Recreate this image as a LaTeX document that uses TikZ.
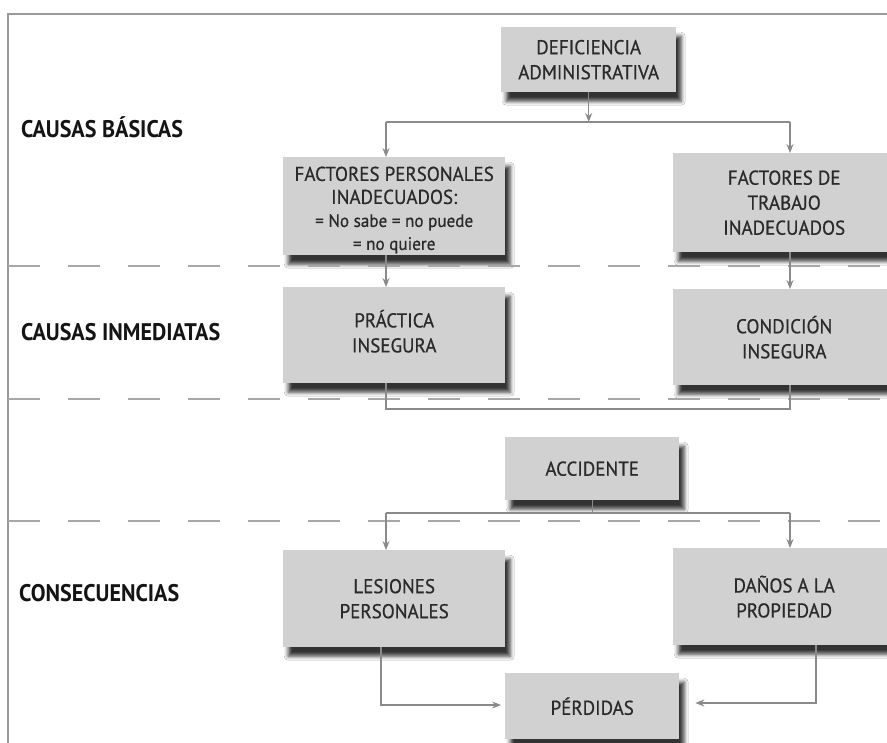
\documentclass[tikz,border=0pt]{standalone}
\usepackage{fontspec}
\setmainfont{PT Sans}
\newfontfamily\boxfont{PT Sans}[FakeStretch=0.95, FakeBold=0.6]
\newfontfamily\labfont{PT Sans}[FakeStretch=0.92]
\usetikzlibrary{arrows.meta,shadows.blur,calc}
\definecolor{boxgray}{HTML}{D1D1D1}
\definecolor{linegray}{HTML}{8A8A8A}
\definecolor{dashgray}{HTML}{A8A8A8}
\definecolor{framegray}{HTML}{9A9A9A}
\definecolor{txt}{HTML}{2A2A2A}
\newcommand{\smalltxt}{\fontsize{18}{21}\selectfont}
\begin{document}
\begin{tikzpicture}[x=1pt,y=-1pt,
  box/.style={fill=boxgray, draw=none, anchor=north west, inner sep=0pt, align=center, text=txt,
    font=\boxfont\fontsize{20}{25}\selectfont,
    blur shadow={shadow xshift=5pt, shadow yshift=-9pt, shadow blur radius=4pt, shadow opacity=80}},
  lab/.style={anchor=west, font=\labfont\bfseries\fontsize{24}{28}\selectfont, text=black!92, inner sep=0pt},
  conn/.style={draw=linegray, line width=1.1pt},
  arr/.style={conn, -{Stealth[length=9pt,width=7pt,inset=3pt]}},
  sep/.style={draw=dashgray, line width=2pt, dash pattern=on 32pt off 28pt}]
\useasboundingbox (0,0) rectangle (887,743);
\fill[white] (0,0) rectangle (887,743);
\clip (0,0) rectangle (887,743);

% frame
\draw[framegray, line width=1.5pt] (8,743) -- (8,14) -- (887,14);

% boxes
\node[box, minimum width=175pt, minimum height=65pt] (def) at (501,27) {DEFICIENCIA\\ADMINISTRATIVA};
\node[box, minimum width=222pt, minimum height=98pt, font=\boxfont\fontsize{20}{23}\selectfont] (fp) at (283,157)
  {\rule{0pt}{22pt}FACTORES PERSONALES\\INADECUADOS:\\\smalltxt = No sabe = no puede\\\smalltxt = no quiere};
\node[box, minimum width=222pt, minimum height=99pt] (ft) at (673,153) {FACTORES DE\\TRABAJO\\INADECUADOS};
\node[box, minimum width=222pt, minimum height=96pt] (pi) at (283,287) {PRÁCTICA\\INSEGURA\rule[-8pt]{0pt}{8pt}};
\node[box, minimum width=222pt, minimum height=96pt] (ci) at (673,289) {CONDICIÓN\\INSEGURA};
\node[box, minimum width=174pt, minimum height=63pt] (acc) at (505,437) {ACCIDENTE};
\node[box, minimum width=222pt, minimum height=97pt] (les) at (283,550) {LESIONES\\PERSONALES};
\node[box, minimum width=222pt, minimum height=97pt] (dan) at (673,548) {DAÑOS A LA\\PROPIEDAD};
\node[box, minimum width=174pt, minimum height=66pt] (per) at (505,673) {PÉRDIDAS};

% level labels
\node[lab] (l1) at (21,127) {CAUSAS BÁSICAS};
\node[lab] (l2) at (21,332) {CAUSAS INMEDIATAS};
\node[lab] (l3) at (19,593) {CONSECUENCIAS};

% dashed separators
\coordinate (d1a) at (8,266); \coordinate (d1b) at (887,266);
\coordinate (d2a) at (8,399); \coordinate (d2b) at (887,399);
\coordinate (d3a) at (8,521); \coordinate (d3b) at (887,521);
\draw[sep] (d1a) -- (d1b);
\draw[sep] (d2a) -- (d2b);
\draw[sep] (d3a) -- (d3b);

% connectors
\coordinate (xl) at (386,0);
\coordinate (xr) at (790,0);
\coordinate (h1) at (588,122);
\draw[arr] (def.south) -- (def.south |- h1);
\draw[conn] (h1 -| xl) -- (h1 -| xr);
\draw[arr] (h1 -| xl) -- (fp.north -| xl);
\draw[arr] (h1 -| xr) -- (ft.north -| xr);
\draw[arr] (fp.south -| xl) -- (pi.north -| xl);
\draw[arr] (ft.south -| xr) -- (ci.north -| xr);
\coordinate (h2) at (588,409);
\draw[conn] (pi.south -| xl) -- (h2 -| xl) -- (h2 -| xr) -- (ci.south -| xr);
\coordinate (h3) at (588,513);
\draw[conn] (acc.south) -- (acc.south |- h3);
\draw[conn] (h3 -| xl) -- (h3 -| xr);
\draw[arr] (h3 -| xl) -- (les.north -| xl);
\draw[arr] (h3 -| xr) -- (dan.north -| xr);
\coordinate (h4l) at (381,705);
\coordinate (h4r) at (816,703);
\draw[arr, shorten >=4pt] (les.south -| h4l) -- (h4l) -- (h4l -| per.west);
\draw[arr, shorten >=16pt] (dan.south -| h4r) -- (h4r) -- (h4r -| per.east);
\end{tikzpicture}
\end{document}
